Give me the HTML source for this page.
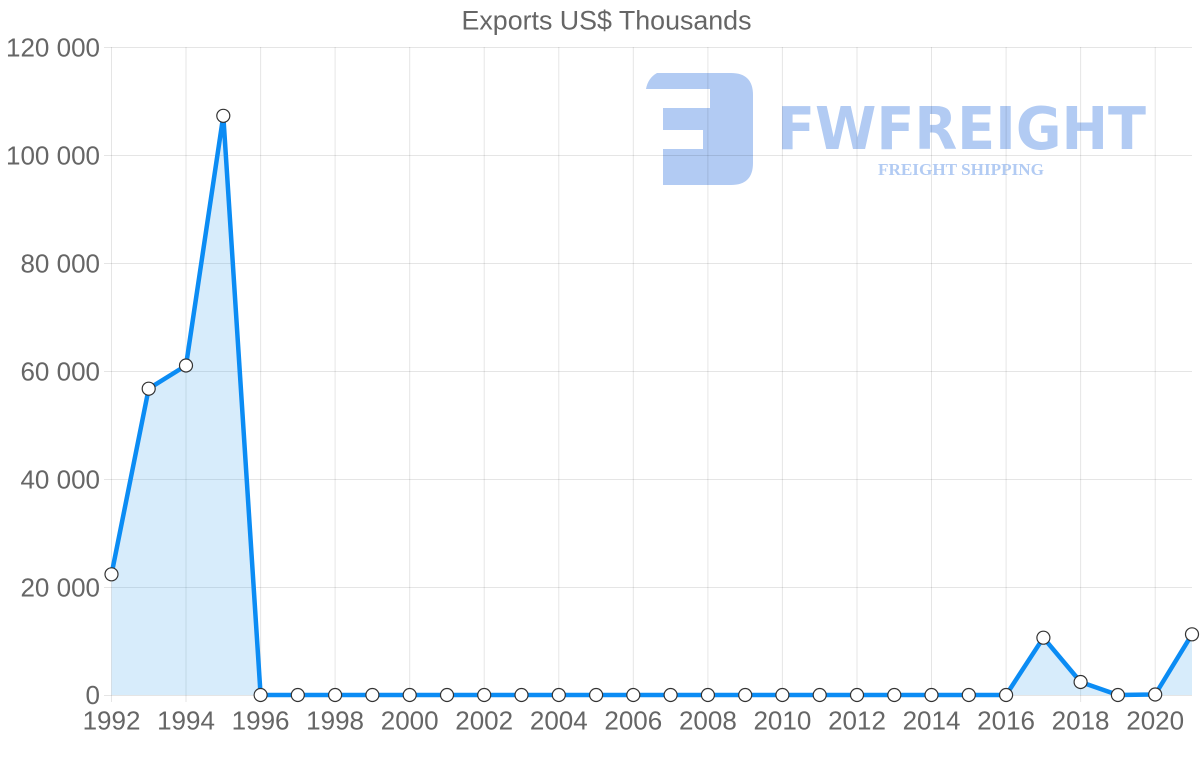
<!DOCTYPE html>
<html>
<head>
<meta charset="utf-8">
<style>
html,body{margin:0;padding:0;background:#fff;}
svg{display:block;}
text{font-family:"Liberation Sans",Arial,sans-serif;fill:#666;}
</style>
</head>
<body>
<svg width="1200" height="763" viewBox="0 0 1200 763" xmlns="http://www.w3.org/2000/svg">
<rect width="1200" height="763" fill="#fff"/>
<!-- Title -->
<text x="606.5" y="29.5" font-size="26.8" text-anchor="middle">Exports US$ Thousands</text>

<!-- Watermark logo -->
<g fill="#b2cbf3">
<path d="M657,73 L731,73 Q753,73 753,95 L753,163 Q753,185 731,185 L663,185 L663,149 L703,149 L703,130 L663,130 L663,108 L710,108 L710,89 L646,89 Q648,78 657,73 Z"/>
<text x="777" y="149" font-size="59" font-weight="bold" textLength="369" lengthAdjust="spacingAndGlyphs" style="fill:#b2cbf3;font-family:'DejaVu Sans','Liberation Sans',sans-serif;">FWFREIGHT</text>
<text x="878" y="175" font-size="17" font-weight="bold" textLength="166" lengthAdjust="spacingAndGlyphs" style="fill:#b2cbf3;font-family:'Liberation Serif',serif;">FREIGHT SHIPPING</text>
</g>

<!-- Grid -->
<g stroke="rgba(0,0,0,0.1)" stroke-width="1">
<line x1="104" y1="47.5" x2="1192" y2="47.5"/>
<line x1="104" y1="155.5" x2="1192" y2="155.5"/>
<line x1="104" y1="263.5" x2="1192" y2="263.5"/>
<line x1="104" y1="371.5" x2="1192" y2="371.5"/>
<line x1="104" y1="479.5" x2="1192" y2="479.5"/>
<line x1="104" y1="587.5" x2="1192" y2="587.5"/>
<line x1="104" y1="695.5" x2="1192" y2="695.5"/>
<line x1="111.5" y1="47" x2="111.5" y2="702"/>
<line x1="186" y1="47" x2="186" y2="702"/>
<line x1="260.6" y1="47" x2="260.6" y2="702"/>
<line x1="335.1" y1="47" x2="335.1" y2="702"/>
<line x1="409.7" y1="47" x2="409.7" y2="702"/>
<line x1="484.2" y1="47" x2="484.2" y2="702"/>
<line x1="558.8" y1="47" x2="558.8" y2="702"/>
<line x1="633.3" y1="47" x2="633.3" y2="702"/>
<line x1="707.9" y1="47" x2="707.9" y2="702"/>
<line x1="782.4" y1="47" x2="782.4" y2="702"/>
<line x1="857" y1="47" x2="857" y2="702"/>
<line x1="931.5" y1="47" x2="931.5" y2="702"/>
<line x1="1006.1" y1="47" x2="1006.1" y2="702"/>
<line x1="1080.6" y1="47" x2="1080.6" y2="702"/>
<line x1="1155.2" y1="47" x2="1155.2" y2="702"/>
</g>

<!-- Y labels -->
<g font-size="26" text-anchor="end">
<text x="100" y="56.5">120 000</text>
<text x="100" y="164.5">100 000</text>
<text x="100" y="272.5">80 000</text>
<text x="100" y="380.5">60 000</text>
<text x="100" y="488.5">40 000</text>
<text x="100" y="596.5">20 000</text>
<text x="100" y="704">0</text>
</g>

<!-- X labels -->
<g font-size="26" text-anchor="middle">
<text x="111.5" y="729.5">1992</text>
<text x="186" y="729.5">1994</text>
<text x="260.6" y="729.5">1996</text>
<text x="335.1" y="729.5">1998</text>
<text x="409.7" y="729.5">2000</text>
<text x="484.2" y="729.5">2002</text>
<text x="558.8" y="729.5">2004</text>
<text x="633.3" y="729.5">2006</text>
<text x="707.9" y="729.5">2008</text>
<text x="782.4" y="729.5">2010</text>
<text x="857" y="729.5">2012</text>
<text x="931.5" y="729.5">2014</text>
<text x="1006.1" y="729.5">2016</text>
<text x="1080.6" y="729.5">2018</text>
<text x="1155.2" y="729.5">2020</text>
</g>

<!-- Area fill -->
<polygon fill="rgba(54,162,235,0.2)" points="111.5,695 111.5,574.3 148.7,388.7 186,365.5 223.3,115.8 260.6,695 1006.1,695 1043.4,637.7 1080.6,682 1117.9,695 1155.2,694.5 1192,634.3 1192,695"/>

<!-- Line -->
<polyline fill="none" stroke="#0b8cf4" stroke-width="4.5" stroke-linejoin="round" points="111.5,574.3 148.7,388.7 186,365.5 223.3,115.8 260.6,695 297.8,695 335.1,695 372.4,695 409.7,695 447,695 484.2,695 521.5,695 558.8,695 596.1,695 633.3,695 670.6,695 707.9,695 745.2,695 782.4,695 819.7,695 857,695 894.3,695 931.5,695 968.8,695 1006.1,695 1043.4,637.7 1080.6,682 1117.9,695 1155.2,694.5 1192,634.3"/>

<!-- Points -->
<g fill="#fff" stroke="#333" stroke-width="1.2">
<circle cx="111.5" cy="574.3" r="6.5"/>
<circle cx="148.7" cy="388.7" r="6.5"/>
<circle cx="186" cy="365.5" r="6.5"/>
<circle cx="223.3" cy="115.8" r="6.5"/>
<circle cx="260.6" cy="695" r="6.5"/>
<circle cx="297.8" cy="695" r="6.5"/>
<circle cx="335.1" cy="695" r="6.5"/>
<circle cx="372.4" cy="695" r="6.5"/>
<circle cx="409.7" cy="695" r="6.5"/>
<circle cx="447" cy="695" r="6.5"/>
<circle cx="484.2" cy="695" r="6.5"/>
<circle cx="521.5" cy="695" r="6.5"/>
<circle cx="558.8" cy="695" r="6.5"/>
<circle cx="596.1" cy="695" r="6.5"/>
<circle cx="633.3" cy="695" r="6.5"/>
<circle cx="670.6" cy="695" r="6.5"/>
<circle cx="707.9" cy="695" r="6.5"/>
<circle cx="745.2" cy="695" r="6.5"/>
<circle cx="782.4" cy="695" r="6.5"/>
<circle cx="819.7" cy="695" r="6.5"/>
<circle cx="857" cy="695" r="6.5"/>
<circle cx="894.3" cy="695" r="6.5"/>
<circle cx="931.5" cy="695" r="6.5"/>
<circle cx="968.8" cy="695" r="6.5"/>
<circle cx="1006.1" cy="695" r="6.5"/>
<circle cx="1043.4" cy="637.7" r="6.5"/>
<circle cx="1080.6" cy="682" r="6.5"/>
<circle cx="1117.9" cy="695" r="6.5"/>
<circle cx="1155.2" cy="694.5" r="6.5"/>
<circle cx="1192" cy="634.3" r="6.5"/>
</g>
</svg>
</body>
</html>
